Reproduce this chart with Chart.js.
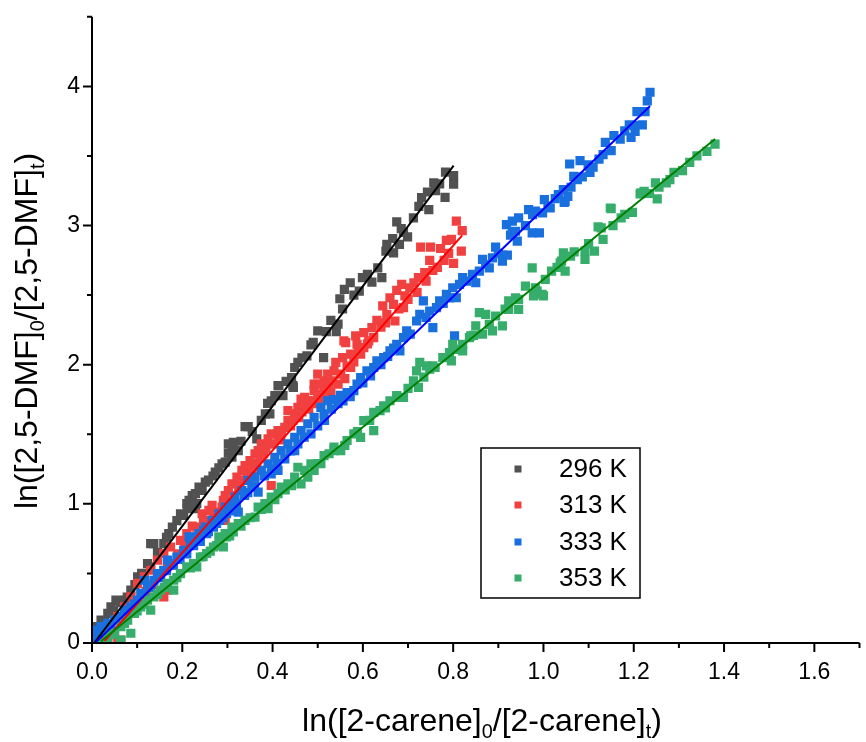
<!DOCTYPE html>
<html>
<head>
<meta charset="utf-8">
<script src="https://cdn.jsdelivr.net/npm/chart.js@4.4.0/dist/chart.umd.min.js"></script>
<style>
  html, body { margin: 0; padding: 0; background: #fff; }
  #wrap { width: 866px; height: 742px; position: relative; }
</style>
</head>
<body>
<div id="wrap"><canvas id="scatter-chart"></canvas></div>
<script>
// ---- data ----
var seriesLabels = ["296 K", "313 K", "333 K", "353 K"];

// [x, y] pairs: x = ln([2-carene]0/[2-carene]t), y = ln([2,5-DMF]0/[2,5-DMF]t)
var k296 = [[0.002,0.045],[0.009,0.117],[0.020,0.165],[0.035,0.213],[0.042,0.260],[0.053,0.308],[0.072,0.308],[0.086,0.380],
  [0.101,0.475],[0.123,0.571],[0.130,0.547],[0.130,0.714],[0.137,0.714],[0.159,0.714],[0.170,0.786],[0.178,0.833],[0.196,0.929],
  [0.203,0.917],[0.210,1.001],[0.232,1.001],[0.211,0.965],[0.229,0.965],[0.215,1.025],[0.222,1.060],[0.229,1.073],[0.244,1.096],
  [0.237,1.120],[0.251,1.156],[0.273,1.228],[0.281,1.259],[0.288,1.288],[0.302,1.364],[0.310,1.335],[0.302,1.431],[0.313,1.442],
  [0.310,1.395],[0.324,1.383],[0.365,1.467],[0.339,1.555],[0.346,1.555],[0.384,1.646],[0.394,1.646],[0.389,1.722],[0.405,1.777],
  [0.412,1.849],[0.445,1.849],[0.397,1.741],[0.423,1.777],[0.414,1.849],[0.446,1.837],[0.442,1.908],[0.449,1.980],[0.456,2.016],
  [0.476,2.064],[0.513,2.051],[0.485,2.142],[0.500,2.243],[0.519,2.238],[0.541,2.238],[0.545,2.291],[0.529,2.319],[0.549,2.474],
  [0.559,2.541],[0.572,2.589],[0.592,2.529],[0.599,2.625],[0.620,2.594],[0.633,2.696],[0.642,2.625],[0.651,2.816],[0.653,2.864],
  [0.668,2.804],[0.681,2.864],[0.666,2.907],[0.699,2.919],[0.685,2.978],[0.675,3.026],[0.712,3.055],[0.724,3.138],[0.746,3.115],
  [0.743,3.241],[0.761,3.251],[0.757,3.306],[0.782,3.203],[0.783,3.384],[0.801,3.358],[0.801,3.298],
  [0.015,0.080],[0.028,0.150],[0.048,0.230],[0.062,0.290],[0.078,0.330],[0.095,0.420],[0.110,0.500],[0.145,0.650],[0.165,0.760],
  [0.188,0.880],[0.220,1.000],[0.258,1.170],[0.268,1.200],[0.295,1.300],[0.330,1.450],[0.355,1.520],[0.375,1.600],[0.430,1.880],
  [0.465,2.050],[0.490,2.160],[0.555,2.400],[0.580,2.500],[0.610,2.650],[0.690,2.950],[0.730,3.200],[0.770,3.300]];

var k313 = [[0.028,0.021],[0.057,0.010],[0.064,0.021],[0.035,0.045],[0.042,0.117],[0.057,0.189],[0.072,0.260],[0.086,0.332],
  [0.159,0.332],[0.167,0.380],[0.101,0.428],[0.116,0.475],[0.130,0.523],[0.167,0.571],[0.145,0.595],[0.159,0.643],[0.174,0.690],
  [0.196,0.738],[0.210,0.786],[0.232,0.833],[0.222,0.840],[0.247,0.881],[0.255,0.881],[0.295,0.881],[0.269,0.929],[0.244,0.929],
  [0.259,0.953],[0.298,0.977],[0.288,0.977],[0.266,0.989],[0.291,1.025],[0.295,1.060],[0.302,1.096],[0.310,1.144],[0.321,1.192],
  [0.332,1.240],[0.332,1.168],[0.343,1.216],[0.339,1.275],[0.350,1.311],[0.361,1.359],[0.368,1.383],[0.375,1.431],[0.390,1.431],
  [0.390,1.467],[0.397,1.503],[0.412,1.490],[0.412,1.526],[0.427,1.550],[0.434,1.598],[0.449,1.646],[0.434,1.670],[0.456,1.693],
  [0.471,1.705],[0.485,1.741],[0.478,1.741],[0.471,1.765],[0.463,1.753],[0.500,1.777],[0.492,1.813],[0.507,1.789],[0.514,1.837],
  [0.492,1.861],[0.500,1.861],[0.529,1.801],[0.514,1.884],[0.533,1.884],[0.522,1.932],[0.500,1.932],[0.551,1.932],[0.536,1.956],
  [0.573,1.980],[0.540,2.016],[0.555,2.051],[0.573,2.076],[0.595,2.076],[0.602,2.123],[0.562,2.159],[0.587,2.147],[0.558,2.171],
  [0.613,2.171],[0.624,2.195],[0.584,2.207],[0.602,2.231],[0.620,2.266],[0.631,2.319],[0.671,2.314],[0.653,2.362],[0.690,2.410],
  [0.644,2.422],[0.668,2.434],[0.660,2.481],[0.693,2.494],[0.675,2.534],[0.686,2.577],[0.704,2.553],[0.713,2.589],[0.723,2.625],
  [0.737,2.661],[0.755,2.678],[0.748,2.749],[0.728,2.845],[0.750,2.845],[0.772,2.835],[0.801,2.728],[0.818,2.816],[0.785,2.893],
  [0.796,2.900],[0.820,2.964],[0.807,3.031],[0.397,1.132],
  [0.215,0.700],[0.228,0.760],[0.240,0.800],[0.262,0.860],[0.275,0.900],[0.283,0.940],[0.305,1.010],[0.315,1.060],[0.325,1.110],
  [0.328,1.150],[0.345,1.170],[0.355,1.250],[0.365,1.290],[0.372,1.330],[0.380,1.360],[0.385,1.400],[0.403,1.430],[0.418,1.460],
  [0.420,1.520],[0.440,1.560],[0.445,1.600],[0.458,1.620],[0.465,1.660],[0.480,1.680],[0.490,1.720],[0.505,1.740],[0.518,1.770],
  [0.525,1.850],[0.545,1.860],[0.560,1.900],[0.565,1.990],[0.580,2.020],[0.590,2.100],[0.610,2.150],[0.640,2.270],[0.650,2.300],
  [0.680,2.400],[0.700,2.470],[0.720,2.520],[0.740,2.600],[0.765,2.700],[0.780,2.750],[0.790,2.800],[0.120,0.370],[0.135,0.420],
  [0.150,0.480],[0.180,0.560],[0.190,0.640],[0.205,0.680],[0.095,0.300],[0.078,0.210],[0.050,0.080]];

var k333 = [[0.002,0.045],[0.013,0.070],[0.006,0.093],[0.020,0.117],[0.035,0.141],[0.050,0.165],[0.064,0.189],[0.072,0.236],
  [0.086,0.260],[0.101,0.308],[0.108,0.356],[0.123,0.403],[0.137,0.451],[0.116,0.451],[0.145,0.499],[0.159,0.523],[0.174,0.571],
  [0.167,0.595],[0.188,0.618],[0.203,0.666],[0.218,0.714],[0.232,0.762],[0.215,0.762],[0.237,0.786],[0.254,0.786],[0.247,0.810],
  [0.251,0.833],[0.269,0.833],[0.266,0.881],[0.283,0.881],[0.281,0.929],[0.298,0.929],[0.324,0.941],[0.295,0.977],[0.313,0.977],
  [0.310,1.001],[0.317,1.048],[0.368,1.084],[0.332,1.096],[0.354,1.120],[0.346,1.168],[0.361,1.192],[0.397,1.216],[0.375,1.240],
  [0.412,1.240],[0.390,1.288],[0.427,1.323],[0.405,1.335],[0.419,1.383],[0.449,1.383],[0.434,1.431],[0.449,1.478],[0.485,1.503],
  [0.463,1.526],[0.478,1.574],[0.492,1.622],[0.514,1.646],[0.507,1.693],[0.522,1.741],[0.545,1.720],[0.535,1.750],[0.550,1.780],
  [0.565,1.800],[0.580,1.813],[0.587,1.861],[0.595,1.908],[0.609,1.956],[0.624,1.980],[0.631,2.028],[0.646,2.051],[0.660,2.099],
  [0.682,2.099],[0.675,2.147],[0.690,2.195],[0.803,2.207],[0.697,2.243],[0.755,2.266],[0.719,2.314],[0.726,2.362],[0.748,2.386],
  [0.763,2.410],[0.734,2.458],[0.770,2.458],[0.807,2.481],[0.785,2.506],[0.799,2.553],[0.814,2.577],[0.850,2.589],[0.821,2.625],
  [0.843,2.649],[0.858,2.673],[0.880,2.696],[0.909,2.744],[0.865,2.757],[0.887,2.768],[0.909,2.787],[0.920,2.787],[0.894,2.845],
  [0.942,2.888],[0.927,2.931],[0.931,2.947],[0.975,2.947],[0.991,2.947],[0.938,2.959],[0.918,3.007],[0.931,3.031],[0.945,3.055],
  [0.976,3.079],[0.998,3.091],[0.982,3.103],[0.967,3.115],[1.015,3.126],[1.048,3.174],[1.002,3.186],[1.026,3.193],[1.033,3.222],
  [1.046,3.167],[1.054,3.210],[1.044,3.258],[1.061,3.275],[1.067,3.353],[1.086,3.349],[1.103,3.382],[1.099,3.437],[1.058,3.442],
  [1.081,3.466],[1.123,3.477],[1.132,3.509],[1.150,3.538],[1.137,3.597],[1.156,3.647],[1.194,3.633],[1.203,3.676],[1.190,3.724],
  [1.201,3.719],[1.219,3.724],[1.207,3.819],[1.225,3.819],[1.230,3.896],[1.236,3.958],
  [0.010,0.030],[0.028,0.100],[0.042,0.120],[0.058,0.170],[0.079,0.230],[0.094,0.280],[0.115,0.350],[0.130,0.400],[0.152,0.470],
  [0.165,0.520],[0.180,0.560],[0.195,0.600],[0.210,0.640],[0.225,0.700],[0.240,0.730],[0.258,0.800],[0.276,0.860],[0.290,0.900],
  [0.305,0.950],[0.320,1.000],[0.338,1.060],[0.345,1.080],[0.360,1.130],[0.382,1.200],[0.398,1.250],[0.410,1.290],[0.440,1.380],
  [0.456,1.430],[0.470,1.480],[0.500,1.560],[0.515,1.600],[0.530,1.680],[0.556,1.740],[0.572,1.770],[0.600,1.870],[0.617,1.920],
  [0.640,2.000],[0.655,2.060],[0.668,2.120],[0.705,2.220],[0.740,2.340],[0.778,2.440],[0.792,2.480],[0.830,2.600],[0.872,2.720],
  [0.900,2.800],[0.960,3.000],[1.010,3.140],[1.075,3.330],[1.110,3.420],[1.170,3.620],[1.180,3.680]];

var k353 = [[0.020,0.000],[0.035,0.034],[0.064,0.021],[0.050,0.070],[0.086,0.070],[0.064,0.117],[0.079,0.165],[0.094,0.213],
  [0.108,0.260],[0.130,0.236],[0.123,0.308],[0.137,0.332],[0.152,0.380],[0.181,0.380],[0.167,0.428],[0.181,0.451],[0.196,0.499],
  [0.210,0.547],[0.232,0.547],[0.225,0.571],[0.240,0.618],[0.254,0.643],[0.269,0.690],[0.291,0.690],[0.283,0.714],[0.298,0.762],
  [0.281,0.762],[0.295,0.786],[0.313,0.798],[0.310,0.833],[0.324,0.858],[0.339,0.881],[0.361,0.905],[0.390,0.965],[0.368,0.977],
  [0.383,1.001],[0.397,1.048],[0.412,1.073],[0.419,1.120],[0.434,1.144],[0.463,1.144],[0.449,1.192],[0.478,1.192],[0.471,1.240],
  [0.492,1.240],[0.456,1.263],[0.485,1.288],[0.507,1.288],[0.514,1.347],[0.536,1.383],[0.551,1.383],[0.536,1.407],[0.565,1.455],
  [0.595,1.478],[0.580,1.503],[0.624,1.526],[0.602,1.598],[0.624,1.657],[0.638,1.670],[0.646,1.705],[0.660,1.741],[0.675,1.765],
  [0.690,1.765],[0.675,1.777],[0.723,1.837],[0.712,1.884],[0.719,1.956],[0.748,1.968],[0.741,1.992],[0.755,1.992],[0.726,2.016],
  [0.796,2.028],[0.777,2.051],[0.792,2.087],[0.821,2.099],[0.821,2.147],[0.799,2.147],[0.836,2.195],[0.839,2.207],[0.865,2.219],
  [0.887,2.243],[0.909,2.279],[0.850,2.279],[0.894,2.350],[0.872,2.362],[0.858,2.374],[0.923,2.398],[0.945,2.398],[0.923,2.458],
  [0.945,2.470],[0.938,2.481],[0.978,2.494],[1.000,2.494],[0.997,2.506],[0.986,2.529],[0.982,2.553],[0.960,2.565],[1.004,2.613],
  [1.018,2.673],[1.048,2.673],[0.975,2.696],[1.037,2.732],[1.040,2.744],[1.092,2.757],[1.044,2.804],[1.068,2.811],[1.092,2.816],
  [1.113,2.816],[1.132,2.900],[1.128,2.983],[1.121,2.990],[1.154,3.000],[1.172,3.055],[1.197,3.095],[1.150,3.122],[1.148,3.126],
  [1.252,3.191],[1.214,3.227],[1.216,3.234],[1.223,3.246],[1.256,3.275],[1.248,3.306],[1.272,3.306],[1.289,3.382],[1.308,3.394],
  [1.324,3.454],[1.362,3.533],[1.380,3.585],
  [0.042,0.060],[0.072,0.140],[0.100,0.230],[0.115,0.280],[0.145,0.350],[0.160,0.400],[0.188,0.470],[0.218,0.540],[0.246,0.620],
  [0.262,0.660],[0.276,0.700],[0.305,0.770],[0.330,0.840],[0.350,0.900],[0.375,0.960],[0.405,1.030],[0.428,1.100],[0.442,1.130],
  [0.500,1.290],[0.525,1.360],[0.560,1.420],[0.588,1.520],[0.615,1.600],[0.650,1.690],[0.700,1.830],[0.735,1.910],[0.760,1.980],
  [0.810,2.110],[0.845,2.210],[0.880,2.290],[0.915,2.400],[1.030,2.700],[1.060,2.780],[1.100,2.870],[1.180,3.080],[1.235,3.230],
  [1.280,3.330],[1.340,3.500]];

// linear fits y = a + b*x, one per temperature
var fitIntercept = [-0.022, -0.088, -0.022, -0.040];
var fitSlope = [4.31, 3.68, 3.14, 2.653];

var xTickValues = [0, 0.2, 0.4, 0.6, 0.8, 1.0, 1.2, 1.4, 1.6];
var xMinorValues = [0.1, 0.3, 0.5, 0.7, 0.9, 1.1, 1.3, 1.5, 1.7];
var yTickValues = [0, 1, 2, 3, 4];
var yMinorValues = [0.5, 1.5, 2.5, 3.5, 4.5];

var xTitleParts = [["ln([2-carene]", 0], ["0", 1], ["/[2-carene]", 0], ["t", 1], [")", 0]];
var yTitleParts = [["ln([2,5-DMF]", 0], ["0", 1], ["/[2,5-DMF]", 0], ["t", 1], [")", 0]];

var pointColors = ["#515151", "#F14040", "#1A6FDF", "#37AD6B"];
var lineColors = ["#000000", "#FF0000", "#0000FF", "#008000"];

var FONT = '"Liberation Sans", Arial, Helvetica, sans-serif';

// ---- build datasets ----
var allSeries = [k296, k313, k333, k353];
var datasets = [];
allSeries.forEach(function (s, i) {
  datasets.push({
    label: seriesLabels[i],
    data: s.map(function (p) { return { x: p[0], y: p[1] }; }),
    backgroundColor: pointColors[i],
    borderColor: pointColors[i],
    borderWidth: 0,
    pointStyle: 'rect',
    pointRadius: 6.5,
    pointHoverRadius: 6.5,
    clip: 0,
    order: 8 - i
  });
});
allSeries.forEach(function (s, i) {
  var xs = s.map(function (p) { return p[0]; });
  var x0 = Math.min.apply(null, xs), x1 = Math.max.apply(null, xs);
  datasets.push({
    label: seriesLabels[i] + ' fit',
    data: [
      { x: x0, y: fitIntercept[i] + fitSlope[i] * x0 },
      { x: x1, y: fitIntercept[i] + fitSlope[i] * x1 }
    ],
    showLine: true,
    borderColor: lineColors[i],
    borderWidth: 2,
    pointRadius: 0,
    fill: false,
    order: 4 - i
  });
});

function drawRichText(ctx, parts, cx, cy, size, angle) {
  ctx.save();
  ctx.translate(cx, cy);
  ctx.rotate(angle);
  var total = 0;
  parts.forEach(function (p) {
    ctx.font = (p[1] ? size * 0.62 : size) + 'px ' + FONT;
    total += ctx.measureText(p[0]).width;
  });
  var x = -total / 2;
  ctx.fillStyle = '#000';
  ctx.textBaseline = 'alphabetic';
  ctx.textAlign = 'left';
  parts.forEach(function (p) {
    ctx.font = (p[1] ? size * 0.62 : size) + 'px ' + FONT;
    ctx.fillText(p[0], x, p[1] ? size * 0.22 : 0);
    x += ctx.measureText(p[0]).width;
  });
  ctx.restore();
}

// axes, ticks (major + minor) and titles drawn on top, Origin style
var originAxes = {
  id: 'originAxes',
  afterDatasetsDraw: function (chart) {
    var ctx = chart.ctx, a = chart.chartArea;
    var xs = chart.scales.x, ys = chart.scales.y;
    ctx.save();
    ctx.strokeStyle = '#000';
    ctx.lineWidth = 2;
    ctx.beginPath();
    ctx.moveTo(a.left, a.top);
    ctx.lineTo(a.left, a.bottom + 1);
    ctx.moveTo(a.left - 1, a.bottom);
    ctx.lineTo(a.right, a.bottom);
    xTickValues.forEach(function (v) {
      var px = xs.getPixelForValue(v);
      ctx.moveTo(px, a.bottom); ctx.lineTo(px, a.bottom + 9);
    });
    xMinorValues.forEach(function (v) {
      var px = xs.getPixelForValue(v);
      ctx.moveTo(px, a.bottom); ctx.lineTo(px, a.bottom + 5);
    });
    yTickValues.forEach(function (v) {
      var py = ys.getPixelForValue(v);
      ctx.moveTo(a.left - 9, py); ctx.lineTo(a.left, py);
    });
    yMinorValues.forEach(function (v) {
      var py = ys.getPixelForValue(v);
      ctx.moveTo(a.left - 5, py); ctx.lineTo(a.left, py);
    });
    ctx.stroke();
    ctx.restore();

    drawRichText(ctx, xTitleParts, 482, 731, 32, 0);
    drawRichText(ctx, yTitleParts, 37, 331, 32, -Math.PI / 2);
  },
  afterDraw: function (chart) {
    // legend box inside the plot
    var ctx = chart.ctx;
    var rows = [469, 505, 542, 578];
    ctx.save();
    ctx.strokeStyle = '#000';
    ctx.lineWidth = 1.5;
    ctx.fillStyle = '#fff';
    ctx.fillRect(481, 448, 159, 150);
    ctx.strokeRect(481, 448, 159, 150);
    ctx.font = '26px ' + FONT;
    ctx.textBaseline = 'middle';
    ctx.textAlign = 'left';
    for (var i = 0; i < 4; i++) {
      var ds = chart.data.datasets[i];
      ctx.fillStyle = ds.backgroundColor;
      ctx.fillRect(514.5, rows[i] - 3.5, 7, 7);
      ctx.fillStyle = '#000';
      ctx.fillText(ds.label, 559, rows[i] + 1);
    }
    ctx.restore();
  }
};

new Chart(document.getElementById("scatter-chart"), {
  type: 'scatter',
  data: { datasets: datasets },
  options: {
    responsive: true,
    maintainAspectRatio: false,
    animation: false,
    layout: { padding: { top: 15, right: 0, left: 0, bottom: 0 } },
    plugins: {
      legend: { display: false },
      tooltip: { enabled: false }
    },
    scales: {
      x: {
        type: 'linear',
        min: 0,
        max: 1.7,
        afterBuildTicks: function (scale) {
          scale.ticks = xTickValues.map(function (v) { return { value: v }; });
        },
        afterFit: function (scale) { scale.height = 99; },
        grid: { display: false, drawTicks: true, tickLength: 9 },
        border: { display: false },
        ticks: {
          padding: 7,
          color: '#000',
          font: { family: FONT, size: 23 },
          maxRotation: 0,
          callback: function (v) { return Number(v).toFixed(1); }
        }
      },
      y: {
        type: 'linear',
        min: 0,
        max: 4.5,
        afterBuildTicks: function (scale) {
          scale.ticks = yTickValues.map(function (v) { return { value: v }; });
        },
        afterFit: function (scale) { scale.width = 92; },
        grid: { display: false, drawTicks: true, tickLength: 9 },
        border: { display: false },
        ticks: {
          padding: 3,
          color: '#000',
          font: { family: FONT, size: 23 },
          callback: function (v) { return String(v); }
        }
      }
    }
  },
  plugins: [originAxes]
});
</script>
</body>
</html>
